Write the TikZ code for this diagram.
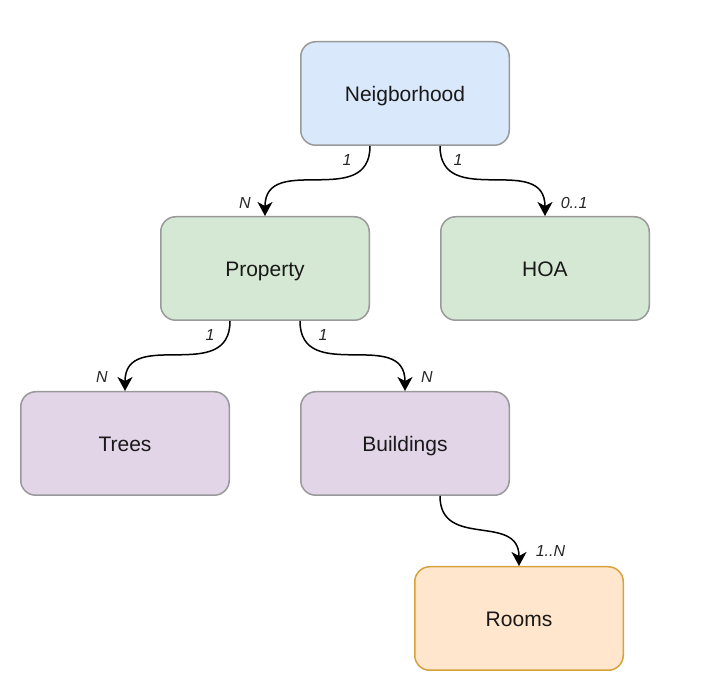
\documentclass[tikz,border=0pt]{standalone}
\usepackage{fontspec}
\setmainfont{Liberation Sans}
\usetikzlibrary{positioning, arrows.meta}

\definecolor{bluefill}{HTML}{DAE8FC}
\definecolor{greenfill}{HTML}{D5E8D4}
\definecolor{purplefill}{HTML}{E1D5E7}
\definecolor{orangefill}{HTML}{FFE6CC}
\definecolor{greyline}{HTML}{999999}
\definecolor{orangeline}{HTML}{D6A23E}

\begin{document}
\begin{tikzpicture}
  [x=1pt, y=1pt,
   box/.style = {draw=greyline, line width=1.5pt, rounded corners=15pt,
     minimum width=208.5pt, minimum height=103.5pt, text height=18pt, text depth=2pt,
     font=\fontsize{21}{25}\selectfont, text=black!90},
   link/.style = {line width=1.5pt, -{Stealth[length=14pt, width=15pt, inset=4pt]},
     out=-90, in=90, looseness=1.3},
   lbl/.style = {font=\fontsize{16}{18}\selectfont\itshape, inner sep=0pt, text=black!85}]
  \useasboundingbox (0,0) rectangle (716,-692);
  \node (nbh) [box, fill=bluefill] at (405,-93.5) {Neigborhood};
  \node (prop) [box, fill=greenfill, below=70pt of nbh, xshift=-140pt] {Property};
  \node (hoa) [box, fill=greenfill, below=70pt of nbh, xshift=140pt] {HOA};
  \node (trees) [box, fill=purplefill, below=70pt of prop, xshift=-140pt] {Trees};
  \node (bld) [box, fill=purplefill, below=70pt of prop, xshift=140pt] {Buildings};
  \node (rooms) [box, draw=orangeline, fill=orangefill, below=70pt of bld, xshift=114pt] {Rooms};
  \draw [link] ([xshift=-35pt]nbh.south) to
    node [lbl, at start, xshift=-23pt, yshift=-14pt] {1}
    node [lbl, at end, xshift=-20pt, yshift=13pt] {N} (prop.north);
  \draw [link] ([xshift=35pt]nbh.south) to
    node [lbl, at start, xshift=18pt, yshift=-14pt] {1}
    node [lbl, at end, anchor=west, xshift=15pt, yshift=13pt] {0..1} (hoa.north);
  \draw [link] ([xshift=-35pt]prop.south) to
    node [lbl, at start, xshift=-20pt, yshift=-14pt] {1}
    node [lbl, at end, xshift=-23pt, yshift=14pt] {N} (trees.north);
  \draw [link] ([xshift=35pt]prop.south) to
    node [lbl, at start, xshift=23pt, yshift=-14pt] {1}
    node [lbl, at end, xshift=22pt, yshift=14pt] {N} (bld.north);
  \draw [link] ([xshift=35pt]bld.south) to
    node [lbl, at end, anchor=west, xshift=16pt, yshift=15pt] {1..N} (rooms.north);
\end{tikzpicture}
\end{document}
